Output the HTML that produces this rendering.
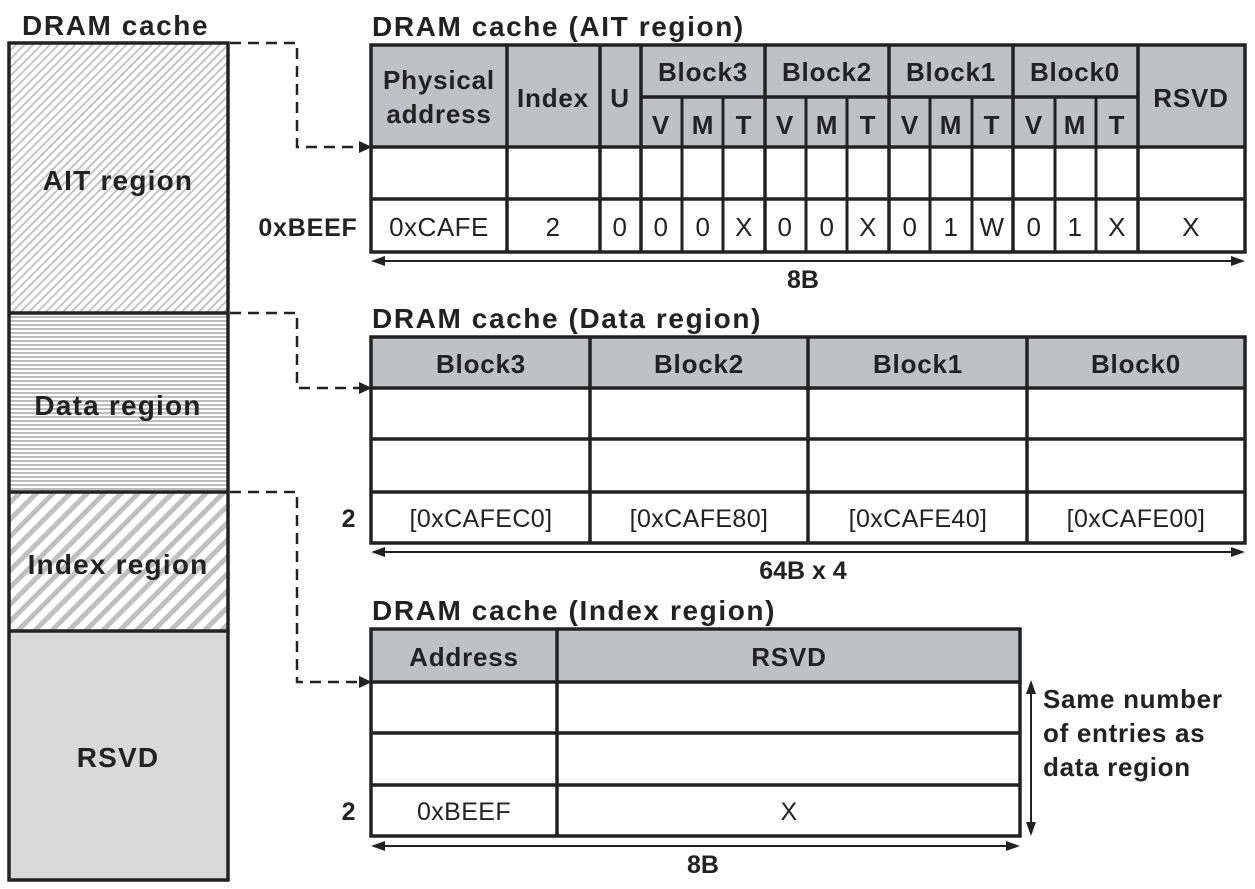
<!DOCTYPE html>
<html><head><style>body{margin:0;background:#fff}svg{display:block}</style></head><body>
<svg width="1255" height="889" viewBox="0 0 1255 889" xmlns="http://www.w3.org/2000/svg" font-family="Liberation Sans, sans-serif">
<defs>
<pattern id="p1" width="6" height="6" patternUnits="userSpaceOnUse" patternTransform="rotate(45)"><rect width="6" height="6" fill="#fff"/><rect width="2" height="6" fill="#c4c4c4"/></pattern>
<pattern id="p2" width="4" height="4" patternUnits="userSpaceOnUse"><rect width="4" height="4" fill="#fff"/><rect width="4" height="2" fill="#bdbdbd"/></pattern>
<pattern id="p3" width="12" height="12" patternUnits="userSpaceOnUse" patternTransform="rotate(45)"><rect width="12" height="12" fill="#fff"/><rect width="5" height="12" fill="#c0c0c0"/></pattern>
</defs>
<g fill="#222" font-weight="bold" font-size="28" letter-spacing="1.6">
<text x="22" y="35">DRAM cache</text>
<text x="372" y="36">DRAM cache (AIT region)</text>
<text x="372" y="328">DRAM cache (Data region)</text>
<text x="372" y="620">DRAM cache (Index region)</text>
</g>
<!-- left column -->
<rect x="9" y="43" width="219" height="270" fill="url(#p1)"/>
<rect x="9" y="313" width="219" height="179" fill="url(#p2)"/>
<rect x="9" y="492" width="219" height="139" fill="url(#p3)"/>
<rect x="9" y="631" width="219" height="249" fill="#d9d9d9"/>
<g stroke="#222" stroke-width="3.5" fill="none">
<rect x="9" y="43" width="219" height="837"/>
<line x1="9" y1="313" x2="228" y2="313"/><line x1="9" y1="492" x2="228" y2="492"/><line x1="9" y1="631" x2="228" y2="631"/>
</g>
<g fill="#222" font-weight="bold" font-size="28" text-anchor="middle" letter-spacing="1.2">
<text x="118" y="190">AIT region</text><text x="118" y="415">Data region</text><text x="118" y="574">Index region</text><text x="118" y="767">RSVD</text>
</g>
<!-- dashed connectors -->
<g stroke="#222" stroke-width="2.5" fill="none" stroke-dasharray="11,7">
<path d="M230,43 H297 V147 H360"/>
<path d="M230,313 H297 V388 H360"/>
<path d="M230,492 H297 V682 H360"/>
</g>
<g fill="#222">
<path d="M359,141 L372,147 L359,153z"/>
<path d="M359,382 L372,388 L359,394z"/>
<path d="M359,676 L372,682 L359,688z"/>
</g>
<!-- AIT table -->
<rect x="371" y="45" width="874" height="102" fill="#c0c1c4"/>
<g stroke="#222" stroke-width="3.5" fill="none">
<rect x="371" y="45" width="874" height="207"/>
<line x1="371" y1="147" x2="1245" y2="147"/><line x1="371" y1="199" x2="1245" y2="199"/>
<line x1="641" y1="97" x2="1138" y2="97"/>
<path d="M507,45V252M600,45V252M641,45V252M765,45V252M889,45V252M1013,45V252M1138,45V252"/>
<path d="M682,97V252M723,97V252M806,97V252M847,97V252M930,97V252M972,97V252M1055,97V252M1096,97V252" stroke-width="3"/>
</g>
<g fill="#222" font-weight="bold" font-size="26" text-anchor="middle" letter-spacing="0.8">
<text x="439" y="89">Physical</text><text x="439" y="123">address</text>
<text x="553" y="107">Index</text><text x="620" y="107">U</text>
<text x="703" y="81">Block3</text><text x="827" y="81">Block2</text><text x="951" y="81">Block1</text><text x="1075" y="81">Block0</text>
<text x="1191" y="107">RSVD</text>
<text x="661" y="134">V</text><text x="703" y="134">M</text><text x="744" y="134">T</text>
<text x="785" y="134">V</text><text x="827" y="134">M</text><text x="868" y="134">T</text>
<text x="910" y="134">V</text><text x="951" y="134">M</text><text x="992" y="134">T</text>
<text x="1034" y="134">V</text><text x="1075" y="134">M</text><text x="1117" y="134">T</text>
<text x="308" y="236" font-size="25">0xBEEF</text>
</g>
<g fill="#222" font-size="26" text-anchor="middle" letter-spacing="0.5">
<text x="439" y="236">0xCAFE</text><text x="553" y="236">2</text><text x="620" y="236">0</text>
<text x="661" y="236">0</text><text x="703" y="236">0</text><text x="744" y="236">X</text>
<text x="785" y="236">0</text><text x="827" y="236">0</text><text x="868" y="236">X</text>
<text x="910" y="236">0</text><text x="951" y="236">1</text><text x="992" y="236">W</text>
<text x="1034" y="236">0</text><text x="1075" y="236">1</text><text x="1117" y="236">X</text>
<text x="1191" y="236">X</text>
</g>
<line x1="380" y1="261" x2="1236" y2="261" stroke="#222" stroke-width="2"/>
<path d="M371,261 L385,256 L385,266z M1245,261 L1231,256 L1231,266z" fill="#222"/>
<text x="803" y="288" fill="#222" font-weight="bold" font-size="25" text-anchor="middle">8B</text>
<!-- Data table -->
<rect x="371" y="337" width="874" height="51" fill="#c0c1c4"/>
<g stroke="#222" stroke-width="3.5" fill="none">
<rect x="371" y="337" width="874" height="206"/>
<path d="M371,388H1245M371,439H1245M371,492H1245M590,337V543M808,337V543M1027,337V543"/>
</g>
<g fill="#222" font-weight="bold" font-size="26" text-anchor="middle" letter-spacing="0.8">
<text x="481" y="373">Block3</text><text x="699" y="373">Block2</text><text x="918" y="373">Block1</text><text x="1136" y="373">Block0</text>
<text x="349" y="527" font-size="25">2</text>
</g>
<g fill="#222" font-size="25" text-anchor="middle" letter-spacing="0.4">
<text x="481" y="527">[0xCAFEC0]</text><text x="699" y="527">[0xCAFE80]</text><text x="918" y="527">[0xCAFE40]</text><text x="1136" y="527">[0xCAFE00]</text>
</g>
<line x1="380" y1="552" x2="1236" y2="552" stroke="#222" stroke-width="2"/>
<path d="M371,552 L385,547 L385,557z M1245,552 L1231,547 L1231,557z" fill="#222"/>
<text x="803" y="579" fill="#222" font-weight="bold" font-size="25" text-anchor="middle">64B x 4</text>
<!-- Index table -->
<rect x="371" y="629" width="649" height="53" fill="#c0c1c4"/>
<g stroke="#222" stroke-width="3.5" fill="none">
<rect x="371" y="629" width="649" height="207"/>
<path d="M371,682H1020M371,733H1020M371,785H1020M557,629V836"/>
</g>
<g fill="#222" font-weight="bold" font-size="26" text-anchor="middle" letter-spacing="0.8">
<text x="464" y="666">Address</text><text x="789" y="666">RSVD</text>
<text x="349" y="820" font-size="25">2</text>
</g>
<g fill="#222" font-size="25" text-anchor="middle" letter-spacing="0.4">
<text x="464" y="820">0xBEEF</text><text x="789" y="820">X</text>
</g>
<line x1="380" y1="846" x2="1011" y2="846" stroke="#222" stroke-width="2"/>
<path d="M371,846 L385,841 L385,851z M1020,846 L1006,841 L1006,851z" fill="#222"/>
<text x="703" y="873" fill="#222" font-weight="bold" font-size="25" text-anchor="middle">8B</text>
<line x1="1031" y1="690" x2="1031" y2="828" stroke="#222" stroke-width="2"/>
<path d="M1031,680 L1026,694 L1036,694z M1031,836 L1026,822 L1036,822z" fill="#222"/>
<g fill="#222" font-weight="bold" font-size="26" letter-spacing="0.7">
<text x="1043" y="708">Same number</text><text x="1043" y="742">of entries as</text><text x="1043" y="776">data region</text>
</g>
</svg>
</body></html>
